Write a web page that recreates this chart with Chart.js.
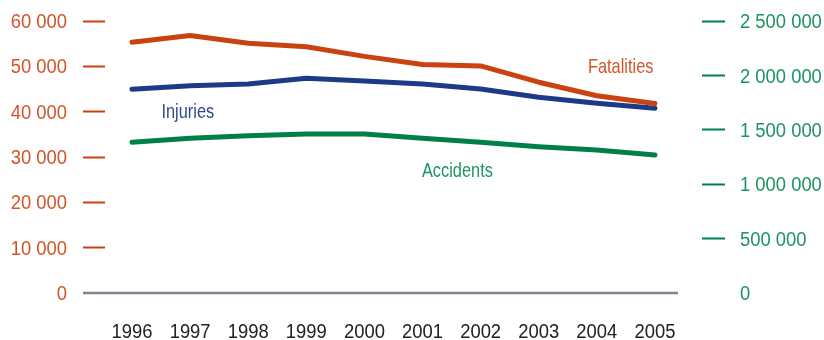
<!DOCTYPE html>
<html>
<head>
<meta charset="utf-8">
<script src="https://cdn.jsdelivr.net/npm/chart.js@4/dist/chart.umd.min.js"></script>
<style>
  html, body { margin: 0; padding: 0; background: #ffffff; }
  #wrap { width: 824px; height: 340px; }
</style>
</head>
<body>
<div id="wrap"><canvas id="c" width="824" height="340"></canvas></div>
<script>
// ---- data ----
const years = ['1996', '1997', '1998', '1999', '2000', '2001', '2002', '2003', '2004', '2005'];
const fatalities = [55300, 56800, 55100, 54300, 52200, 50400, 50100, 46500, 43500, 41800];
const injuries = [1872000, 1905000, 1921000, 1973000, 1949000, 1921000, 1875000, 1799000, 1744000, 1698000];
const accidents = [1385000, 1422000, 1446000, 1461000, 1461000, 1422000, 1385000, 1345000, 1314000, 1268000];
const leftTicks = [0, 10000, 20000, 30000, 40000, 50000, 60000];
const rightTicks = [0, 500000, 1000000, 1500000, 2000000, 2500000];
const seriesNames = ['Fatalities', 'Injuries', 'Accidents'];

// ---- styles ----
const ORANGE = '#CA4210';
const ORANGE_TXT = '#D4552A';
const NAVY = '#1C3A88';
const NAVY_TXT = '#2E4A92';
const GREEN = '#008049';
const GREEN_TXT = '#1E9463';
const GREY = '#80858F';
const FONT = "'Liberation Sans', Arial, sans-serif";
const NUM_SIZE = 20, NUM_SX = 0.92;   // condensed-looking numerals
const TXT_SIZE = 21, TXT_SX = 0.78;   // condensed-looking series labels

// label anchors: [x (category index), y (left-axis value)]
const labelAnchors = [[8.41, 48460], [0.96, 38540], [5.6, 25650]];
const labelColors = [ORANGE_TXT, NAVY_TXT, GREEN_TXT];

function fmt(v) {
  return String(v).replace(/\B(?=(\d{3})+(?!\d))/g, ' ');
}
function pts(arr) { return arr.map((v, i) => ({ x: i, y: v })); }

function drawText(ctx, text, x, y, align, sx, size, color) {
  ctx.save();
  ctx.font = size + 'px ' + FONT;
  ctx.fillStyle = color;
  ctx.textAlign = align;
  ctx.textBaseline = 'alphabetic';
  ctx.scale(sx, 1);
  ctx.fillText(text, x / sx, y);
  ctx.restore();
}

const baselinePlugin = {
  id: 'baseline',
  beforeDatasetsDraw(chart) {
    const { ctx, chartArea } = chart;
    const y = chart.scales.yL.getPixelForValue(0);
    ctx.save();
    ctx.strokeStyle = GREY;
    ctx.lineWidth = 2.6;
    ctx.beginPath();
    ctx.moveTo(chartArea.left - 22, y);
    ctx.lineTo(chartArea.right - 24, y);
    ctx.stroke();
    ctx.restore();
  }
};

const textPlugin = {
  id: 'texts',
  afterDatasetsDraw(chart) {
    const { ctx, chartArea } = chart;
    const xs = chart.scales.x, yl = chart.scales.yL, yr = chart.scales.yR;
    const capHalf = NUM_SIZE * 0.716 / 2;
    // left axis labels
    yl.ticks.forEach(t => {
      drawText(ctx, fmt(t.value), chartArea.left - 38, yl.getPixelForValue(t.value) + capHalf, 'right', NUM_SX, NUM_SIZE, ORANGE_TXT);
    });
    // right axis labels
    yr.ticks.forEach(t => {
      drawText(ctx, fmt(t.value), chartArea.right + 38, yr.getPixelForValue(t.value) + capHalf, 'left', NUM_SX, NUM_SIZE, GREEN_TXT);
    });
    // x axis labels
    const base = yl.getPixelForValue(0) + 45;
    xs.ticks.forEach(t => {
      drawText(ctx, years[t.value], xs.getPixelForValue(t.value), base, 'center', NUM_SX, NUM_SIZE, '#222222');
    });
    // series labels
    seriesNames.forEach((name, i) => {
      drawText(ctx, name, xs.getPixelForValue(labelAnchors[i][0]), yl.getPixelForValue(labelAnchors[i][1]), 'center', TXT_SX, TXT_SIZE, labelColors[i]);
    });
  }
};

new Chart(document.getElementById('c'), {
  type: 'line',
  data: {
    datasets: [
      { label: seriesNames[0], data: pts(fatalities), yAxisID: 'yL', borderColor: ORANGE },
      { label: seriesNames[1], data: pts(injuries), yAxisID: 'yR', borderColor: NAVY },
      { label: seriesNames[2], data: pts(accidents), yAxisID: 'yR', borderColor: GREEN }
    ]
  },
  options: {
    responsive: false,
    animation: false,
    devicePixelRatio: 1,
    layout: { padding: { top: 21, bottom: 0, left: 0, right: 0 } },
    elements: {
      line: { borderWidth: 5, tension: 0, borderCapStyle: 'round', borderJoinStyle: 'round', fill: false },
      point: { radius: 0 }
    },
    plugins: { legend: { display: false }, tooltip: { enabled: false } },
    scales: {
      x: {
        type: 'linear',
        min: -0.465,
        max: 9.81,
        afterBuildTicks(scale) { scale.ticks = years.map((y, i) => ({ value: i })); },
        afterFit(scale) { scale.height = 47; },
        grid: { display: false, drawTicks: false },
        border: { display: false },
        ticks: { display: false }
      },
      yL: {
        position: 'left',
        min: 0,
        max: 60000,
        afterBuildTicks(scale) { scale.ticks = leftTicks.map(v => ({ value: v })); },
        afterFit(scale) { scale.width = 105; },
        grid: {
          drawOnChartArea: false,
          drawTicks: true,
          tickLength: 22,
          tickWidth: 2,
          tickColor: (c) => (c.tick && c.tick.value === 0) ? 'rgba(0,0,0,0)' : ORANGE
        },
        border: { display: false },
        ticks: { display: false }
      },
      yR: {
        position: 'right',
        min: 0,
        max: 2500000,
        afterBuildTicks(scale) { scale.ticks = rightTicks.map(v => ({ value: v })); },
        afterFit(scale) { scale.width = 122; },
        grid: {
          drawOnChartArea: false,
          drawTicks: true,
          tickLength: 23,
          tickWidth: 2,
          tickColor: (c) => (c.tick && c.tick.value === 0) ? 'rgba(0,0,0,0)' : GREEN
        },
        border: { display: false },
        ticks: { display: false }
      }
    }
  },
  plugins: [baselinePlugin, textPlugin]
});
</script>
</body>
</html>
